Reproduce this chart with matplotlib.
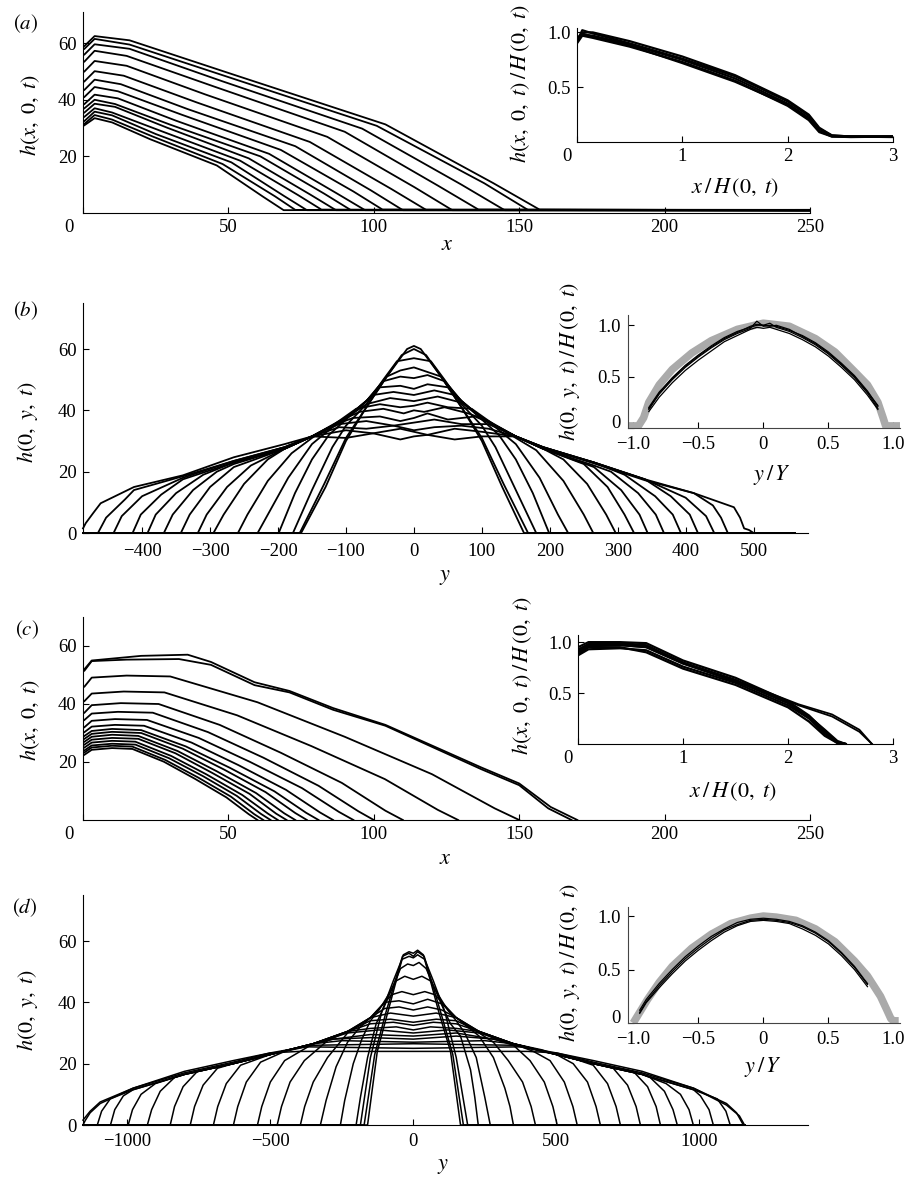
import matplotlib
matplotlib.use('Agg')
import matplotlib.pyplot as plt

plt.rcParams['font.family'] = ['Liberation Serif', 'DejaVu Serif']
plt.rcParams['mathtext.fontset'] = 'stix'
plt.rcParams['font.size'] = 13.5

# ---------------- panel (a): h(x,0,t) along x ----------------
a_x = [
    [0.5, 4, 16, 52, 104, 141, 157, 250],
    [0.5, 4, 16, 50, 101, 138, 153, 250],
    [0.5, 4, 16, 48, 96, 130, 145, 250],
    [0.5, 4, 15, 45, 90, 122, 136, 250],
    [0.5, 4, 15, 42, 84, 114, 127, 250],
    [0.5, 4, 14, 39, 78, 106, 118, 250],
    [0.5, 4, 13, 36, 73, 99, 110, 250],
    [0.5, 4, 12, 34, 68, 93, 103, 250],
    [0.5, 4, 12, 32, 64, 87, 97, 250],
    [0.5, 4, 11, 30, 61, 83, 92, 250],
    [0.5, 4, 11, 29, 57, 78, 87, 250],
    [0.5, 4, 10, 27, 54, 74, 82, 250],
    [0.5, 4, 10, 25, 51, 69, 77, 250],
    [0.5, 4, 10, 24, 48, 66, 73, 250],
    [0.5, 4, 10, 23, 46, 62, 69, 250],
]
a_h = [
    [59, 62.5, 61, 48.8, 31.3, 10.6, 1.2, 1.0],
    [58, 61.5, 59.5, 48.0, 30.8, 10.5, 1.1, 1.1],
    [56, 59.6, 58, 46.5, 29.8, 10.1, 1.0, 0.9],
    [53.5, 57.3, 55.5, 44.7, 28.7, 9.7, 1.2, 1.0],
    [50, 53.7, 52, 41.9, 26.9, 9.1, 1.0, 1.1],
    [46.5, 50.1, 48.5, 39.1, 25.1, 8.5, 1.1, 0.9],
    [43.5, 47.1, 45.5, 36.7, 23.6, 8.0, 1.0, 1.0],
    [41, 44.5, 43, 34.7, 22.3, 7.6, 1.2, 1.1],
    [38.5, 41.8, 40.5, 32.6, 20.9, 7.1, 1.0, 0.9],
    [37, 40.0, 38.5, 31.2, 20.0, 6.8, 1.1, 1.0],
    [35.5, 38.6, 37.5, 30.1, 19.3, 6.6, 1.0, 1.1],
    [34, 37.0, 35.5, 28.9, 18.5, 6.3, 1.2, 1.0],
    [32.5, 35.8, 34.5, 27.9, 17.9, 6.1, 1.0, 0.9],
    [31.5, 34.6, 33, 27.0, 17.3, 5.9, 1.1, 1.0],
    [31, 33.5, 32, 26.1, 16.8, 5.7, 1.0, 1.1],
]
ai_x = [0.0, 0.05, 0.15, 0.5, 1.0, 1.5, 2.0, 2.2, 2.3, 2.42, 2.6, 3.0]
ai_h = [
    [0.93, 1.0, 1.0, 0.92, 0.78, 0.61, 0.38, 0.25, 0.13, 0.06, 0.05, 0.05],
    [0.95, 0.98, 0.97, 0.89, 0.75, 0.58, 0.35, 0.22, 0.10, 0.05, 0.045, 0.05],
    [0.90, 0.97, 0.95, 0.87, 0.73, 0.56, 0.33, 0.20, 0.09, 0.05, 0.05, 0.045],
    [0.92, 1.02, 0.99, 0.90, 0.76, 0.60, 0.37, 0.24, 0.12, 0.06, 0.05, 0.05],
    [0.94, 0.99, 0.96, 0.88, 0.72, 0.55, 0.34, 0.21, 0.10, 0.055, 0.05, 0.05],
]

# ---------------- panel (b): h(0,y,t) along y ----------------
b_y = [
    [-487, -166, -130, -100, -70, -40, -20, -10, 0, 10, 20, 40, 70, 100, 130, 162, 560],
    [-487, -168, -132, -100, -70, -40, -18, 0, 18, 40, 70, 100, 132, 168, 560],
    [-487, -178, -150, -120, -100, -70, -45, -25, 0, 25, 45, 70, 100, 120, 150, 180, 560],
    [-487, -199, -175, -150, -125, -100, -70, -40, -20, 0, 20, 40, 70, 100, 125, 150, 175, 199, 560],
    [-487, -230, -215, -185, -150, -120, -100, -70, -45, -20, 0, 20, 45, 70, 100, 120, 150, 185, 212, 227, 560],
    [-487, -259, -245, -215, -180, -150, -120, -100, -70, -50, -20, 0, 20, 50, 70, 100, 120, 150, 180, 220, 250, 264, 560],
    [-487, -295, -280, -250, -215, -190, -150, -120, -100, -60, -30, 0, 30, 60, 100, 120, 150, 190, 220, 255, 283, 297, 560],
    [-487, -318, -305, -275, -240, -190, -150, -120, -100, -70, -35, 0, 35, 70, 100, 120, 150, 190, 250, 285, 310, 324, 560],
    [-487, -343, -330, -300, -265, -190, -150, -120, -85, -50, -20, 0, 20, 50, 85, 120, 150, 190, 265, 305, 332, 344, 560],
    [-487, -368, -355, -325, -290, -265, -190, -150, -110, -80, -45, -15, 0, 15, 45, 80, 110, 150, 190, 265, 290, 330, 356, 368, 560],
    [-487, -392, -380, -350, -310, -265, -190, -150, -120, -90, -50, -20, 0, 20, 50, 90, 120, 150, 190, 265, 310, 355, 381, 393, 560],
    [-487, -414, -402, -372, -340, -265, -190, -150, -110, -70, -30, 0, 30, 70, 110, 150, 190, 265, 340, 378, 406, 418, 560],
    [-487, -442, -430, -400, -340, -265, -190, -150, -110, -70, -30, 0, 30, 70, 110, 150, 190, 265, 340, 400, 430, 442, 560],
    [-487, -465, -453, -425, -412, -340, -265, -190, -150, -100, -60, -20, 0, 20, 60, 100, 150, 190, 265, 340, 412, 440, 452, 462, 560],
    [-487, -483, -472, -461, -412, -340, -265, -190, -150, -100, -60, -20, 0, 20, 60, 100, 150, 190, 265, 340, 412, 471, 480, 486, 493, 500, 560],
]
b_h = [
    [0, 0, 15, 30, 41, 51, 57, 60, 61, 60, 57, 51, 41, 30, 15, 0, 0],
    [0, 0, 16, 31, 41, 51, 58, 60, 58, 51, 41, 31, 16, 0, 0],
    [0, 0, 14, 28, 35, 42, 50, 56, 57, 56, 50, 42, 35, 28, 14, 0, 0],
    [0, 0, 13, 24, 32, 37, 43, 51, 53, 54, 52.5, 51, 43, 37, 32, 24, 13, 0, 0],
    [0, 0, 6, 18, 29, 34.5, 37.5, 43, 49.5, 51, 50.5, 51.5, 49.5, 43, 37.5, 34.5, 29, 18, 6, 0, 0],
    [0, 0, 6, 17, 26, 31, 35, 37.5, 43, 47.5, 48, 47, 48.5, 47.5, 43, 37.5, 35, 31, 27, 17, 6, 0, 0],
    [0, 0, 6, 16, 24, 27.5, 31.5, 35, 37.5, 45, 46, 45, 46.5, 45, 37.5, 35, 31.5, 27.5, 24, 16, 6, 0, 0],
    [0, 0, 6, 15, 22, 27.5, 31.5, 35, 37.5, 42, 44, 43, 44.5, 42.5, 37.5, 35, 31.5, 27.5, 22.5, 15, 6, 0, 0],
    [0, 0, 6, 15, 21.5, 27.5, 31.5, 35, 40.5, 42, 41, 41.5, 42.5, 41, 40.5, 35, 31.5, 27.5, 21.5, 14, 6, 0, 0],
    [0, 0, 6, 14, 20, 22.5, 27.5, 31.5, 36.5, 39.5, 40.5, 39, 40, 39.5, 41, 39, 36.5, 31.5, 27.5, 22, 20, 13, 6, 0, 0],
    [0, 0, 6, 13, 19, 23, 27.5, 31.5, 35, 37.5, 38, 36.5, 37.5, 39, 37, 38, 35, 31.5, 27.5, 23, 19, 12, 6, 0, 0],
    [0, 0, 6, 12.5, 17.5, 23, 28, 31.5, 35.5, 36.5, 35, 36, 37, 35.5, 35.5, 31.5, 28, 23, 17.5, 12, 6, 0, 0],
    [0, 0, 5.5, 12, 18, 23.5, 28, 31.5, 34.5, 34, 35, 33.5, 34.5, 35, 34, 31.5, 28, 23, 17.5, 11.5, 5.5, 0, 0],
    [0, 0, 5, 11, 14, 18.5, 23.5, 28, 31.5, 33.5, 32.5, 34, 33, 32, 34, 33, 31.5, 28, 23, 17.5, 13, 9, 5, 0, 0],
    [1.5, 3.2, 6.5, 9.7, 15, 18.8, 24.7, 29, 31.5, 31, 32.5, 30.5, 31.5, 32, 30.5, 31.5, 31.5, 28, 22.7, 17.2, 13, 8.4, 5, 1.5, 1, 0, 0],
]
bi_gx = [-1.04, -0.96, -0.92, -0.88, -0.8, -0.7, -0.55, -0.4, -0.2, 0, 0.2, 0.4, 0.55, 0.7, 0.8, 0.88, 0.92, 0.94, 1.05]
bi_gh = [0.02, 0.02, 0.1, 0.25, 0.42, 0.57, 0.73, 0.85, 0.96, 1.02, 0.99, 0.87, 0.74, 0.55, 0.42, 0.25, 0.1, 0.02, 0.02]
bi_x = [-0.88, -0.8, -0.7, -0.6, -0.5, -0.4, -0.3, -0.2, -0.1, -0.05, 0, 0.05, 0.1, 0.2, 0.3, 0.4, 0.5, 0.6, 0.7, 0.8, 0.88]
bi_h = [
    [0.18, 0.33, 0.47, 0.59, 0.69, 0.78, 0.86, 0.92, 0.97, 1.04, 0.99, 1.0, 0.99, 0.95, 0.9, 0.83, 0.74, 0.63, 0.51, 0.36, 0.21],
    [0.2, 0.35, 0.49, 0.61, 0.71, 0.8, 0.88, 0.94, 0.98, 1.0, 1.0, 1.02, 0.98, 0.94, 0.88, 0.81, 0.72, 0.61, 0.49, 0.34, 0.19],
    [0.16, 0.3, 0.44, 0.56, 0.66, 0.75, 0.84, 0.9, 0.96, 0.98, 0.97, 0.98, 0.96, 0.92, 0.86, 0.79, 0.7, 0.59, 0.47, 0.32, 0.18],
    [0.19, 0.34, 0.48, 0.6, 0.7, 0.79, 0.87, 0.93, 0.99, 1.01, 1.0, 0.99, 1.0, 0.96, 0.89, 0.82, 0.73, 0.62, 0.5, 0.35, 0.22],
]

# ---------------- panel (c): h(x,0,t) along x ----------------
c_x = [
    [0.5, 3, 10, 17, 27.8, 38.5, 49.3, 57, 60],
    [0.5, 3, 10, 17, 28.3, 39.5, 50.8, 58.9, 62],
    [0.5, 3, 10, 18, 29.6, 41.3, 52.9, 61.2, 64.5],
    [0.5, 3, 10, 18, 30.3, 42.5, 54.8, 63.6, 67],
    [0.5, 3, 10, 19, 31.8, 44.5, 57.3, 66.4, 70],
    [0.5, 3, 10, 19, 32.5, 46, 59.5, 69.2, 73],
    [0.5, 3, 10, 20, 34.3, 48.5, 62.8, 73, 77],
    [0.5, 3, 10, 20, 35.3, 50.5, 65.8, 76.7, 81],
    [0.5, 3, 11, 21, 37.3, 53.5, 69.8, 81.5, 86],
    [0.5, 3, 11, 22, 39.8, 57.5, 75.3, 88, 93],
    [0.5, 3, 12, 24, 43, 62, 81, 94.7, 100],
    [0.5, 3, 13, 26, 47, 68, 89, 104, 110],
    [0.5, 3, 14, 28, 53, 78.5, 103.8, 122, 129],
    [0.5, 3, 15, 30, 60, 90, 120, 141.6, 150],
    [0.5, 3, 15, 33, 44, 59, 71, 86, 104, 137, 150, 160, 168],
    [0.5, 3, 20, 36, 44, 59, 71, 86, 104, 137, 150, 160.8, 170],
]
c_h = [
    [22.5, 24.2, 24.8, 24.5, 20.1, 14.2, 7.8, 2.0, 0],
    [23.3, 25, 25.6, 25.3, 20.7, 14.7, 8.1, 2.0, 0],
    [24, 25.7, 26.3, 26.0, 21.3, 15.1, 8.3, 2.1, 0],
    [25, 26.7, 27.3, 27.0, 22.1, 15.7, 8.6, 2.2, 0],
    [26, 27.7, 28.3, 28.0, 23.0, 16.2, 9.0, 2.2, 0],
    [27, 28.7, 29.4, 29.0, 23.8, 16.8, 9.3, 2.3, 0],
    [28, 29.7, 30.4, 30.0, 24.6, 17.4, 9.6, 2.4, 0],
    [29, 30.7, 31.4, 31.0, 25.4, 18.0, 9.9, 2.5, 0],
    [30.3, 32.2, 32.8, 32.5, 26.7, 18.9, 10.4, 2.6, 0],
    [32, 34.2, 34.8, 34.5, 28.3, 20.0, 11.0, 2.8, 0],
    [34.5, 36.7, 37.3, 37.0, 30.3, 21.5, 11.8, 3.0, 0],
    [37, 39.6, 40.3, 40.0, 32.8, 23.2, 12.8, 3.2, 0],
    [41, 43.6, 44.3, 44.0, 36.1, 25.5, 14.1, 3.5, 0],
    [46, 49.1, 49.8, 49.5, 40.6, 28.7, 15.8, 4.0, 0],
    [51.5, 54.8, 55.3, 55.5, 53.5, 46.5, 44, 38, 32.5, 17.5, 12, 4, 0],
    [52, 55, 56.6, 57, 54.5, 47.5, 44.5, 38.6, 32.8, 18.1, 12.6, 4.5, 0],
]
ci_x = [0, 0.1, 0.4, 0.65, 1.0, 1.5, 2.0, 2.2, 2.35, 2.47, 2.55]
ci_h = [
    [0.95, 1.0, 1.0, 0.99, 0.82, 0.65, 0.42, 0.28, 0.13, 0.02, 0],
    [0.90, 0.96, 0.97, 0.95, 0.79, 0.62, 0.40, 0.26, 0.12, 0.02, 0],
    [0.87, 0.93, 0.94, 0.92, 0.76, 0.60, 0.38, 0.25, 0.10, 0.01, 0],
    [0.92, 0.98, 0.99, 0.97, 0.80, 0.63, 0.41, 0.27, 0.14, 0.03, 0],
    [0.88, 0.95, 0.95, 0.90, 0.74, 0.58, 0.36, 0.22, 0.08, 0.01, 0],
]
ci_lx = [0, 0.1, 0.4, 0.65, 1.0, 1.5, 1.75, 2.1, 2.42, 2.68, 2.8]
ci_lh = [
    [0.93, 0.98, 0.98, 0.96, 0.80, 0.62, 0.53, 0.39, 0.29, 0.14, 0],
    [0.91, 0.97, 0.97, 0.95, 0.79, 0.61, 0.52, 0.38, 0.27, 0.12, 0],
]

# ---------------- panel (d): h(0,y,t) along y ----------------
d_y = [
    [-1155, -160, -126, -90, -60, -35, -15, 0, 15, 35, 60, 90, 130, 165, 1160],
    [-1155, -172, -135, -95, -60, -38, -15, 0, 15, 38, 60, 95, 138, 175, 1160],
    [-1155, -185, -150, -110, -70, -40, -15, 0, 15, 40, 70, 110, 150, 190, 1160],
    [-1155, -200, -185, -160, -130, -100, -70, -45, -20, 0, 20, 45, 70, 100, 130, 165, 200, 215, 227, 1160],
    [-1155, -255, -240, -210, -180, -150, -120, -90, -60, -30, 0, 30, 60, 90, 120, 150, 180, 220, 250, 269, 1160],
    [-1155, -325, -305, -270, -230, -190, -150, -110, -75, -40, 0, 40, 75, 110, 150, 190, 230, 280, 320, 338, 350, 1160],
    [-1155, -395, -380, -350, -300, -230, -150, -100, -50, 0, 50, 100, 150, 230, 280, 332, 382, 412, 427, 1160],
    [-1155, -476, -461, -431, -381, -300, -230, -150, -100, -50, 0, 50, 100, 150, 230, 300, 350, 408, 458, 488, 503, 1160],
    [-1155, -545, -530, -500, -450, -350, -230, -150, -80, 0, 80, 150, 230, 350, 420, 478, 528, 558, 573, 1160],
    [-1155, -629, -614, -584, -534, -450, -350, -230, -150, -80, 0, 80, 150, 230, 350, 450, 500, 559, 609, 639, 654, 1160],
    [-1155, -699, -684, -654, -604, -500, -350, -230, -150, -70, 0, 70, 150, 230, 350, 500, 550, 629, 679, 709, 724, 1160],
    [-1155, -780, -765, -735, -685, -630, -500, -350, -230, -150, -60, 0, 60, 150, 230, 350, 500, 630, 699, 749, 779, 794, 1160],
    [-1155, -850, -835, -805, -755, -630, -500, -350, -230, -120, 0, 120, 230, 350, 500, 630, 769, 819, 849, 864, 1160],
    [-1155, -930, -915, -885, -835, -800, -630, -500, -350, -280, -150, 0, 150, 280, 350, 500, 630, 800, 828, 878, 908, 923, 1160],
    [-1155, -997, -982, -952, -902, -800, -630, -500, -350, -280, -150, 0, 150, 280, 350, 500, 630, 800, 884, 934, 964, 979, 1160],
    [-1155, -1059, -1044, -1014, -980, -800, -630, -500, -350, -250, 0, 250, 350, 500, 630, 800, 980, 1004, 1034, 1049, 1160],
    [-1155, -1105, -1090, -1060, -980, -800, -630, -500, -350, 0, 350, 500, 630, 800, 980, 1063, 1093, 1108, 1160],
    [-1155, -1147, -1130, -1095, -980, -800, -630, -500, -380, 0, 380, 500, 630, 800, 980, 1095, 1130, 1154, 1160],
    [-1155, -1130, -1095, -980, -800, -630, -500, -400, 0, 400, 500, 630, 800, 980, 1095, 1140, 1158, 1160],
]
d_h = [
    [0, 0, 24, 36.5, 47, 55.5, 56.5, 56, 57, 55.5, 47, 36.5, 24, 0, 0],
    [0, 0, 23, 37, 48, 55, 56, 55, 56.5, 55, 48, 37, 23, 0, 0],
    [0, 0, 22, 37, 47, 54, 55, 54.5, 55.5, 54, 47, 37, 22, 0, 0],
    [0, 0, 9, 22, 33, 39, 45.5, 51, 52.5, 52, 53, 51, 45.5, 39, 33, 29, 18, 9, 0, 0],
    [0, 0, 8, 20, 28, 34, 37.5, 42, 47, 48.5, 47.5, 48.5, 47, 42, 37.5, 34, 30, 22, 9, 0, 0],
    [0, 0, 8, 19, 27, 31.5, 35, 39, 42.5, 43.5, 42.5, 43.5, 42.5, 39, 35, 32, 29, 22, 12, 6, 0, 0],
    [0, 0, 6, 14, 22, 30, 35, 40, 40.5, 39.5, 41, 39.5, 35, 30, 27, 21, 14, 6, 0, 0],
    [0, 0, 6, 14, 21, 27.5, 30.5, 35, 38, 38.5, 37.5, 38.5, 37.5, 35, 30.5, 27.5, 26, 21, 14, 6, 0, 0],
    [0, 0, 6, 14, 21, 26.5, 30.5, 35, 36.5, 35.5, 36.5, 35, 30.5, 26.5, 24, 21, 14, 6, 0, 0],
    [0, 0, 6, 14, 20.5, 24, 26.5, 30.5, 34, 34.5, 33.5, 34.5, 34, 30.5, 26.5, 24.5, 23, 20, 14, 6, 0, 0],
    [0, 0, 6, 13.5, 19.5, 23, 26.5, 30.5, 33, 33.5, 32.5, 33.5, 33, 30.5, 26.5, 23, 22, 19.5, 13.5, 6, 0, 0],
    [0, 0, 6, 13, 18.5, 20, 23, 26.5, 30.5, 31.5, 32, 31, 32, 31.5, 30.5, 26.5, 23, 20, 18.5, 13, 6, 0, 0],
    [0, 0, 6, 12.5, 17.5, 20, 23, 26.5, 30, 31, 30, 31, 30, 26.5, 23, 20, 17.5, 12.5, 6, 0, 0],
    [0, 0, 5, 11, 15.5, 16.5, 20, 23, 26.5, 28, 29.5, 29, 30, 28, 26.5, 23, 20, 16.5, 15.5, 11, 5, 0, 0],
    [0, 0, 5, 10, 13.5, 16.5, 20, 23, 26.5, 28, 28.5, 28, 29, 28, 26.5, 23, 20, 16.5, 13.5, 10, 5, 0, 0],
    [0, 0, 5, 9.5, 11.5, 16.5, 20, 23, 26.5, 27.5, 27, 27.5, 26.5, 23, 20, 16.5, 11.5, 9.5, 5, 0, 0],
    [0, 0, 4.5, 8.5, 11.5, 16.5, 20, 23, 26, 26.5, 26, 23, 20, 16.5, 11.5, 8.5, 4.5, 0, 0],
    [0, 1.5, 4, 7, 12, 17, 20.5, 23.5, 25.5, 25, 25.5, 23.5, 20.5, 17, 12, 7, 4, 0, 0],
    [1.6, 4.5, 7.5, 12, 17.5, 21, 23.5, 24, 24, 24, 23.5, 21, 17.5, 12, 6.5, 3, 0, 0],
]
di_gx = [-1.0, -0.95, -0.89, -0.8, -0.7, -0.55, -0.4, -0.25, -0.1, 0, 0.1, 0.25, 0.4, 0.55, 0.7, 0.8, 0.9, 0.95, 0.98, 1.0, 1.04]
di_gh = [0.0, 0.1, 0.22, 0.38, 0.53, 0.7, 0.83, 0.93, 0.98, 1.0, 0.99, 0.96, 0.88, 0.76, 0.58, 0.44, 0.25, 0.12, 0.04, 0.02, 0.02]
di_x = [-0.95, -0.9, -0.8, -0.7, -0.6, -0.5, -0.4, -0.3, -0.2, -0.1, 0, 0.1, 0.2, 0.3, 0.4, 0.5, 0.6, 0.7, 0.8]
di_h = [
    [0.1, 0.2, 0.35, 0.48, 0.6, 0.7, 0.79, 0.87, 0.92, 0.96, 0.97, 0.96, 0.94, 0.9, 0.84, 0.76, 0.65, 0.52, 0.36],
    [0.12, 0.22, 0.37, 0.5, 0.62, 0.72, 0.81, 0.88, 0.94, 0.97, 0.98, 0.97, 0.95, 0.91, 0.85, 0.77, 0.66, 0.53, 0.37],
    [0.09, 0.19, 0.33, 0.46, 0.58, 0.68, 0.77, 0.85, 0.91, 0.95, 0.96, 0.95, 0.93, 0.88, 0.82, 0.74, 0.63, 0.5, 0.34],
]

W, H = 915, 1180
fig = plt.figure(figsize=(W / 100, H / 100), dpi=100)


def box(l, t, r, b):
    return [l / W, 1 - b / H, (r - l) / W, (b - t) / H]


def style(ax, xpad=4.5, ypad=4.5):
    ax.spines['top'].set_visible(False)
    ax.spines['right'].set_visible(False)
    ax.tick_params(direction='in', length=4.5, width=0.8, labelsize=13.5)
    ax.tick_params(axis='x', pad=xpad)
    ax.tick_params(axis='y', pad=ypad)
    ax.set_facecolor('none')


def label(x, y, s, rot=0, size=16):
    fig.text(x / W, 1 - y / H, s, ha='center', va='center', rotation=rot, fontsize=size)


def zero_x(ax, dx):
    # the "0" of the x axis sits left of the corner in the reference
    ax.annotate('0', xy=(0, 0), xycoords='axes fraction', xytext=(dx, -4.5),
                textcoords='offset points', ha='center', va='top', fontsize=13.5)


def zero_y(ax):
    # the "0" of the y axis sits a little above the corner in the inset
    ax.annotate('0', xy=(0, 0), xycoords='axes fraction', xytext=(-5, 3),
                textcoords='offset points', ha='right', va='center', fontsize=13.5)


line = dict(color='black', lw=1.3, solid_joinstyle='round')

# (a)
ax = fig.add_axes(box(83, 12, 810, 213))
for xs, hs in zip(a_x, a_h):
    ax.plot(xs, hs, **line)
ax.set_xlim(0, 250)
ax.set_ylim(0, 71)
ax.set_xticks([0, 50, 100, 150, 200, 250])
ax.set_xticklabels(['', '50', '100', '150', '200', '250'])
ax.set_yticks([20, 40, 60])
style(ax)
zero_x(ax, -10)
label(447, 246, r'$x$')
label(30, 115, r'$h(x,\ 0,\ t)$', 90)
label(26, 24, r'$(a)$', size=15)

axi = fig.add_axes(box(577, 28, 893, 142))
for hs in ai_h:
    axi.plot(ai_x, hs, color='black', lw=1.6, solid_joinstyle='round')
axi.set_xlim(0, 3)
axi.set_ylim(0, 1.04)
axi.set_xticks([0, 1, 2, 3])
axi.set_xticklabels(['', '1', '2', '3'])
axi.set_yticks([0.5, 1.0])
axi.set_yticklabels(['0.5', '1.0'])
style(axi)
zero_x(axi, -7.5)
label(735, 188, r'$x\,/\,H\,(0,\ t)$')
label(520, 84, r'$h(x,\ 0,\ t)\,/\,H\,(0,\ t)$', 90)

# (b)
ax = fig.add_axes(box(83, 303, 808, 533))
for ys, hs in zip(b_y, b_h):
    ax.plot(ys, hs, clip_on=False, **line)
ax.set_xlim(-487, 580)
ax.set_ylim(0, 75)
ax.set_xticks(range(-400, 501, 100))
ax.set_yticks([0, 20, 40, 60])
style(ax, xpad=7)
label(445, 578, r'$y$')
label(28, 422, r'$h(0,\ y,\ t)$', 90)
label(26, 311, r'$(b)$', size=15)

axi = fig.add_axes(box(628, 315, 900, 428))
axi.plot(bi_gx, bi_gh, color='#aaaaaa', lw=5.5, solid_joinstyle='round', solid_capstyle='butt')
for hs in bi_h:
    axi.plot(bi_x, hs, color='black', lw=0.9)
axi.set_xlim(-1.04, 1.05)
axi.set_ylim(0, 1.1)
axi.set_xticks([-1, -0.5, 0, 0.5, 1])
axi.set_xticklabels(['\u22121.0', '\u22120.5', '0', '0.5', '1.0'])
axi.set_yticks([0, 0.5, 1.0])
axi.set_yticklabels(['', '0.5', '1.0'])
style(axi, xpad=6, ypad=5)
zero_y(axi)
for s in ['left', 'bottom']:
    axi.spines[s].set_color('#444444')
label(772, 475, r'$y\,/\,Y$')
label(570, 362, r'$h(0,\ y,\ t)\,/\,H\,(0,\ t)$', 90)

# (c)
ax = fig.add_axes(box(83, 617, 810, 820))
for xs, hs in zip(c_x, c_h):
    ax.plot(xs, hs, **line)
ax.set_xlim(0, 250)
ax.set_ylim(0, 70)
ax.set_xticks([0, 50, 100, 150, 200, 250])
ax.set_xticklabels(['', '50', '100', '150', '200', '250'])
ax.set_yticks([20, 40, 60])
style(ax)
zero_x(ax, -10)
label(445, 860, r'$x$')
label(30, 720, r'$h(x,\ 0,\ t)$', 90)
label(27, 630, r'$(c)$', size=15)

axi = fig.add_axes(box(578, 635, 893, 744))
for hs in ci_h:
    axi.plot(ci_x, hs, color='black', lw=1.6, solid_joinstyle='round')
for hs in ci_lh:
    axi.plot(ci_lx, hs, color='black', lw=1.3, solid_joinstyle='round')
axi.set_xlim(0, 3)
axi.set_ylim(0, 1.07)
axi.set_xticks([0, 1, 2, 3])
axi.set_xticklabels(['', '1', '2', '3'])
axi.set_yticks([0.5, 1.0])
axi.set_yticklabels(['0.5', '1.0'])
style(axi)
zero_x(axi, -7.5)
label(733, 792, r'$x\,/\,H\,(0,\ t)$')
label(522, 676, r'$h(x,\ 0,\ t)\,/\,H\,(0,\ t)$', 90)

# (d)
ax = fig.add_axes(box(83, 895, 808, 1125))
for ys, hs in zip(d_y, d_h):
    ax.plot(ys, hs, clip_on=False, color='black', lw=1.1, solid_joinstyle='round')
ax.set_xlim(-1155, 1380)
ax.set_ylim(0, 75)
ax.set_xticks([-1000, -500, 0, 500, 1000])
ax.set_yticks([0, 20, 40, 60])
style(ax, xpad=6)
label(443, 1166, r'$y$')
label(28, 1010, r'$h(0,\ y,\ t)$', 90)
label(25, 908, r'$(d)$', size=15)

axi = fig.add_axes(box(628, 907, 900, 1023))
axi.plot(di_gx, di_gh, color='#aaaaaa', lw=5.5, solid_joinstyle='round', solid_capstyle='butt')
for hs in di_h:
    axi.plot(di_x, hs, color='black', lw=0.9)
axi.set_xlim(-1.04, 1.05)
axi.set_ylim(0, 1.085)
axi.set_xticks([-1, -0.5, 0, 0.5, 1])
axi.set_xticklabels(['\u22121.0', '\u22120.5', '0', '0.5', '1.0'])
axi.set_yticks([0, 0.5, 1.0])
axi.set_yticklabels(['', '0.5', '1.0'])
style(axi, xpad=6, ypad=5)
zero_y(axi)
for s in ['left', 'bottom']:
    axi.spines[s].set_color('#444444')
label(763, 1067, r'$y\,/\,Y$')
label(570, 963, r'$h(0,\ y,\ t)\,/\,H\,(0,\ t)$', 90)

fig.savefig('out.png', dpi=100)
